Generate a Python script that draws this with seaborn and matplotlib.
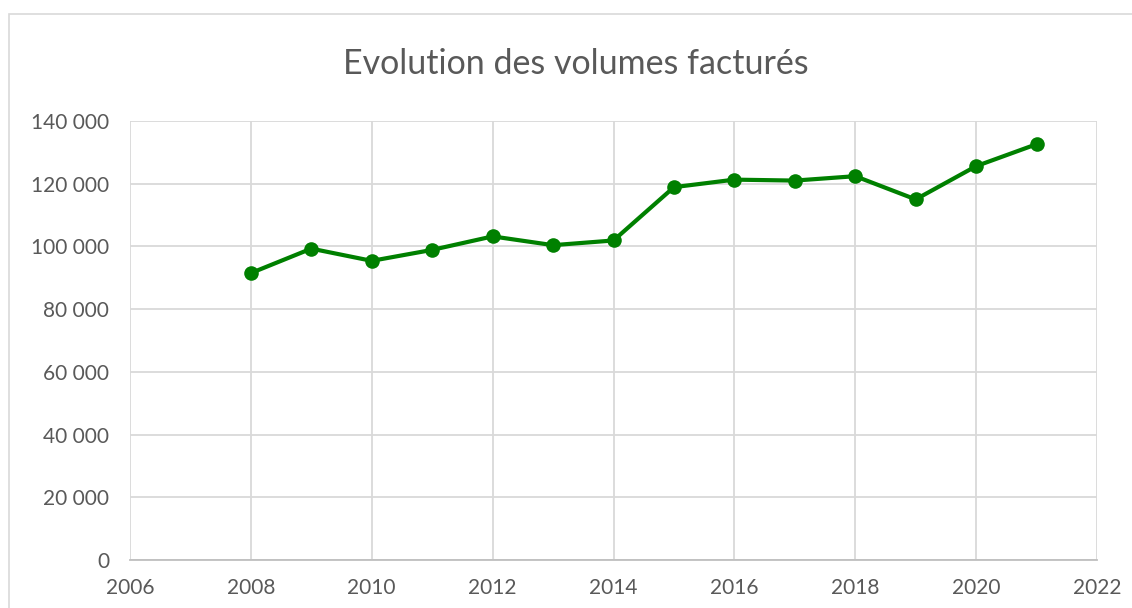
import numpy as np
import pandas as pd
import matplotlib.pyplot as plt
import seaborn as sns
from matplotlib.patches import Rectangle
from matplotlib.ticker import FuncFormatter

# Data
years = [2008, 2009, 2010, 2011, 2012, 2013, 2014, 2015, 2016, 2017, 2018, 2019, 2020, 2021]
volumes = [91500, 99300, 95400, 98900, 103200, 100400, 101900, 118900, 121300, 121000, 122400, 115000, 125600, 132600]
x_ticks = [2006, 2008, 2010, 2012, 2014, 2016, 2018, 2020, 2022]
y_ticks = [0, 20000, 40000, 60000, 80000, 100000, 120000, 140000]

df = pd.DataFrame({'Annee': years, 'Volume': volumes})

sns.set_style("white")
plt.rcParams['font.family'] = ['Lato', 'DejaVu Sans']
txt_col = '#595959'

fig = plt.figure(figsize=(11.32, 6.08), dpi=100)
W, H = 1132, 608
ax = fig.add_axes([130 / W, 1 - 560 / H, (1097 - 130) / W, (560 - 121) / H])

sns.lineplot(x='Annee', y='Volume', data=df, ax=ax, color='#008000',
             linewidth=3, marker='o', markersize=10.5, markeredgewidth=0, zorder=3)

ax.set_xlim(2006, 2022)
ax.set_ylim(0, 140000)
ax.set_xticks(x_ticks)
ax.set_yticks(y_ticks)
ax.yaxis.set_major_formatter(FuncFormatter(lambda v, p: '{:,.0f}'.format(v).replace(',', ' ')))
ax.grid(True, color='#d9d9d9', linewidth=1.3)
ax.set_axisbelow(True)
for s in ['left', 'right', 'top']:
    ax.spines[s].set_visible(False)
ax.spines['bottom'].set_color('#bfbfbf')
ax.spines['bottom'].set_linewidth(1.3)
ax.tick_params(axis='both', length=0, labelsize=15, colors=txt_col)
ax.tick_params(axis='y', pad=15)
ax.tick_params(axis='x', pad=13)
ax.set_xlabel('')
ax.set_ylabel('')

# Chart frame (Excel-style border)
fig.patches.append(Rectangle((9 / W, -0.1), 1.2, 1 - 14 / H + 0.1, transform=fig.transFigure,
                             fill=False, edgecolor='#d9d9d9', linewidth=1.2))

fig.text(576 / W, 1 - 64 / H, 'Evolution des volumes facturés', ha='center', va='center',
         fontsize=24.5, color=txt_col)

plt.savefig('out.png', dpi=100)
